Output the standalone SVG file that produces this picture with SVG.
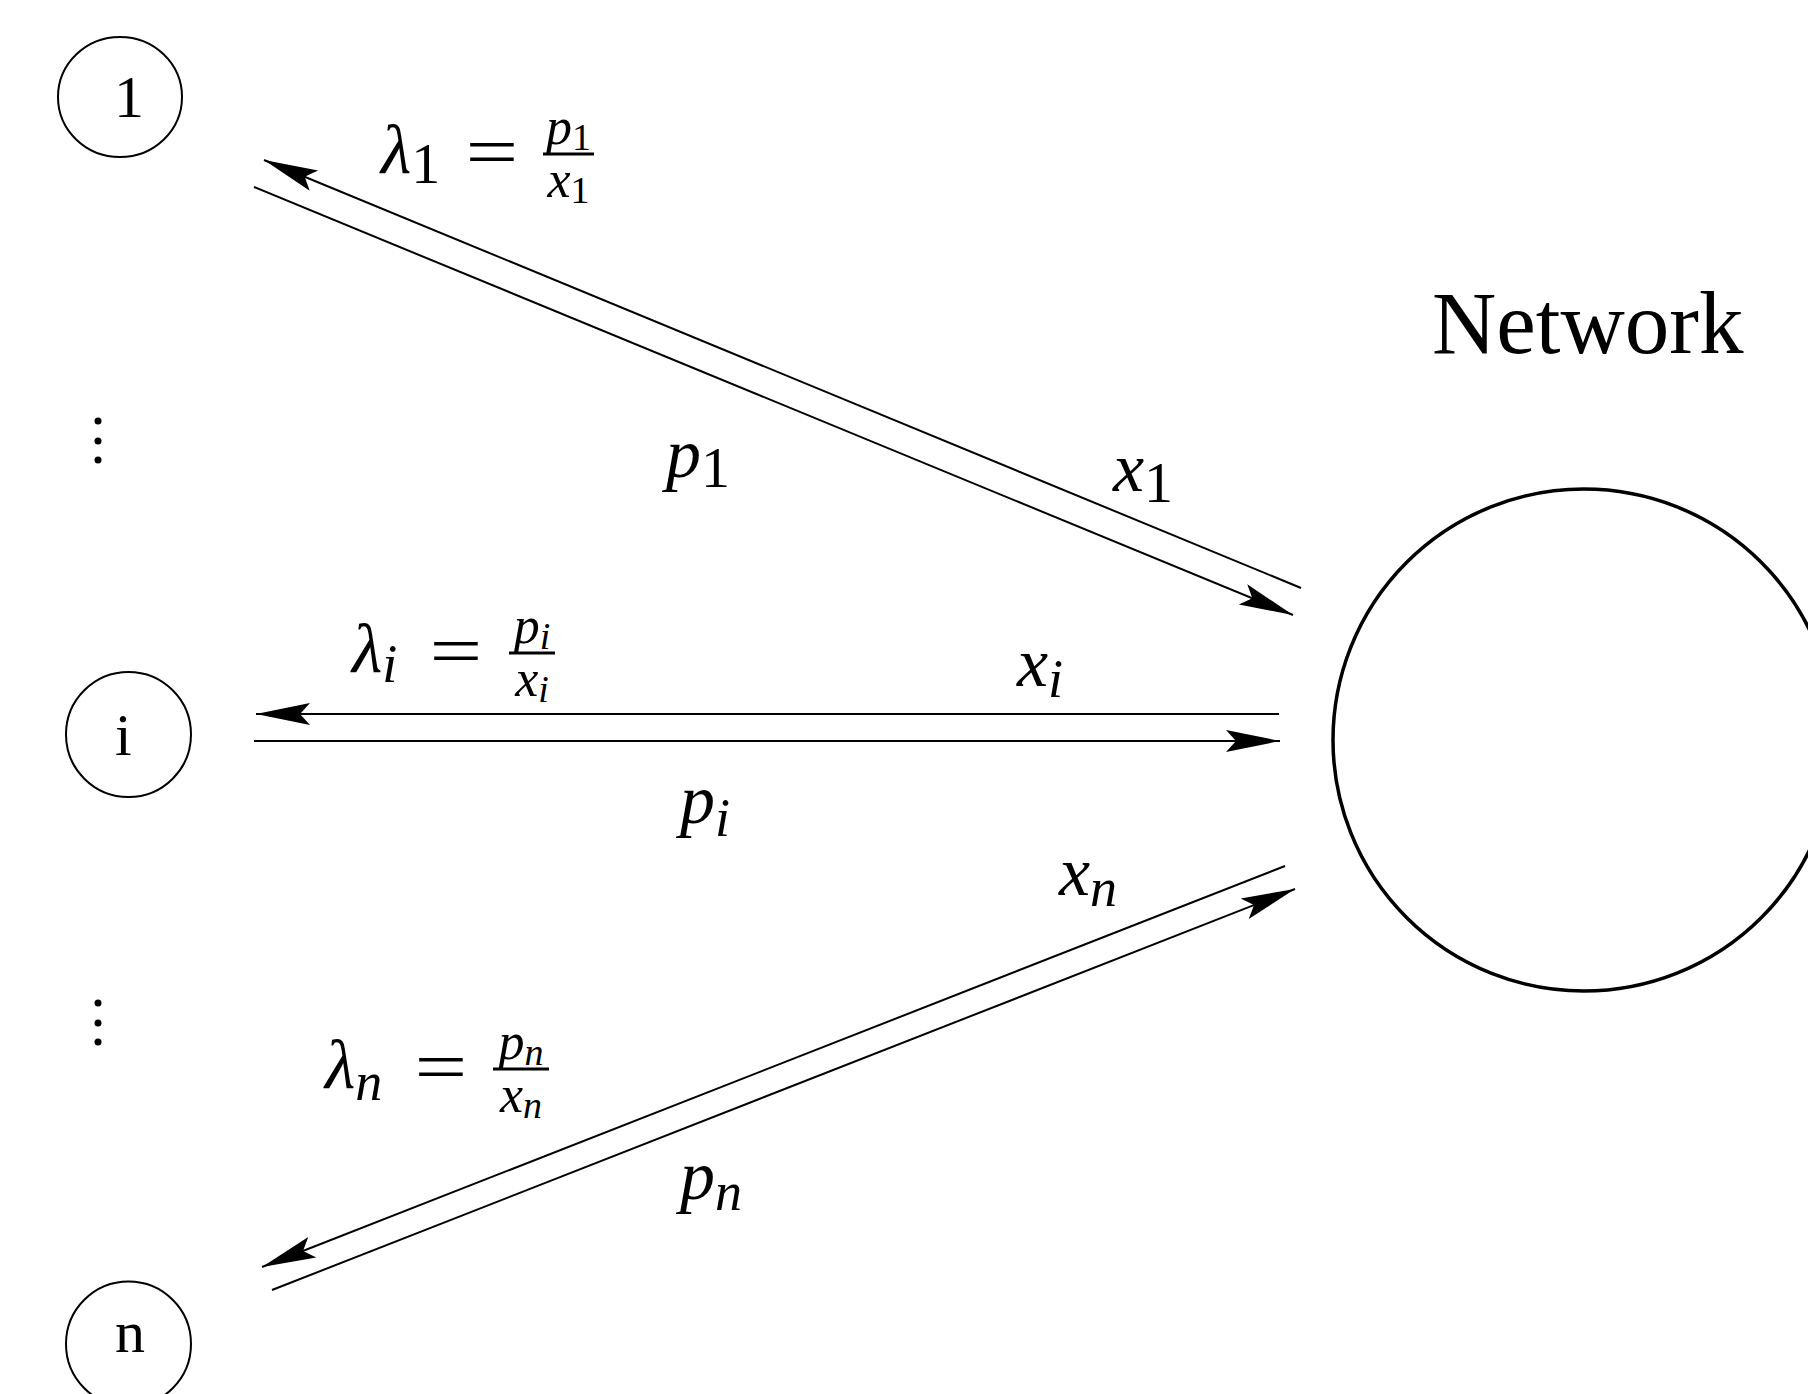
<svg xmlns="http://www.w3.org/2000/svg" width="1808" height="1394" viewBox="0 0 1808 1394">
  <style>
    .node { fill: none; stroke: #000; stroke-width: 2; }
    .net { fill: none; stroke: #000; stroke-width: 3.5; }
    .conn { fill: none; stroke: #000; stroke-width: 2; marker-end: url(#arrow); }
    .bar { stroke: #000; stroke-width: 3; }
    .ntxt { font-family: "Liberation Serif", "Times New Roman", serif; font-size: 60px; fill: #000; }
    .m { font-family: "Liberation Serif", "Times New Roman", serif; font-size: 70px; fill: #000; }
    .f { font-family: "Liberation Serif", "Times New Roman", serif; font-size: 52px; fill: #000; }
    .it { font-family: "Liberation Serif", "Times New Roman", serif; font-style: italic; }
    .sd { font-size: 58px; }
    .sl { font-size: 54px; font-style: italic; }
    .fs { font-size: 38px; }
    .fsl { font-size: 38px; font-style: italic; }
    .eq { font-family: "Liberation Serif", "Times New Roman", serif; font-size: 72px; fill: #000; }
    .dot { fill: #000; }
  </style>
  <defs>
    <marker id="arrow" viewBox="-60 -15 64 30" markerWidth="64" markerHeight="30" refX="0" refY="0" orient="auto" markerUnits="userSpaceOnUse">
      <path d="M0,0 L-54,-11 L-44,0 L-54,11 Z" fill="#000"/>
    </marker>
  </defs>
  <rect width="1808" height="1394" fill="#fff"/>

  <g id="node-1">
    <ellipse class="node" cx="120" cy="97" rx="62" ry="60"/>
    <text class="ntxt" x="114" y="117">1</text>
  </g>
  <g id="node-i">
    <ellipse class="node" cx="128.5" cy="734.5" rx="62.5" ry="62.5"/>
    <text class="ntxt" x="115" y="755">i</text>
  </g>
  <g id="node-n">
    <ellipse class="node" cx="128.5" cy="1344" rx="62.5" ry="62.5"/>
    <text class="ntxt" x="115" y="1352">n</text>
  </g>
  <g id="node-network">
    <circle class="net" cx="1584" cy="740" r="251"/>
    <text class="ntxt" x="1432" y="353" style="font-size:89px">Network</text>
  </g>

  <g id="ellipsis-dots">
    <circle class="dot" cx="98" cy="421" r="3.5"/>
    <circle class="dot" cx="98" cy="441" r="3.5"/>
    <circle class="dot" cx="98" cy="460" r="3.5"/>
    <circle class="dot" cx="98" cy="1003" r="3.5"/>
    <circle class="dot" cx="98" cy="1023" r="3.5"/>
    <circle class="dot" cx="98" cy="1042" r="3.5"/>
  </g>

  <g id="connectors">
    <path class="conn" d="M1301,588 L264,160"/>
    <path class="conn" d="M254,187 L1293,615"/>
    <path class="conn" d="M1279,714 L256,714"/>
    <path class="conn" d="M254,741 L1280,741"/>
    <path class="conn" d="M1285,866 L262,1267"/>
    <path class="conn" d="M272,1290 L1295,889"/>
  </g>

  <g id="labels">
    <!-- lambda_1 = p1/x1 -->
    <text class="m" x="381" y="173"><tspan class="it">λ</tspan><tspan class="sd" dy="10">1</tspan></text>
    <text class="eq" transform="translate(492,176) scale(1.3,1)" text-anchor="middle">=</text>
    <line class="bar" x1="543" y1="154" x2="594" y2="154"/>
    <text class="f" x="568.5" y="144" text-anchor="middle"><tspan class="it">p</tspan><tspan class="fs" dy="6">1</tspan></text>
    <text class="f" x="568.5" y="197" text-anchor="middle"><tspan class="it">x</tspan><tspan class="fs" dy="6">1</tspan></text>

    <!-- lambda_i = pi/xi -->
    <text class="m" x="352" y="672"><tspan class="it">λ</tspan><tspan class="sl" dy="10">i</tspan></text>
    <text class="eq" transform="translate(456,675) scale(1.3,1)" text-anchor="middle">=</text>
    <line class="bar" x1="509" y1="653" x2="555" y2="653"/>
    <text class="f" x="532" y="643" text-anchor="middle"><tspan class="it">p</tspan><tspan class="fsl" dy="6">i</tspan></text>
    <text class="f" x="532" y="696" text-anchor="middle"><tspan class="it">x</tspan><tspan class="fsl" dy="6">i</tspan></text>

    <!-- lambda_n = pn/xn -->
    <text class="m" x="325" y="1088"><tspan class="it">λ</tspan><tspan class="sl" dy="12">n</tspan></text>
    <text class="eq" transform="translate(441,1091) scale(1.3,1)" text-anchor="middle">=</text>
    <line class="bar" x1="493" y1="1069" x2="549" y2="1069"/>
    <text class="f" x="521" y="1059" text-anchor="middle"><tspan class="it">p</tspan><tspan class="fsl" dy="6">n</tspan></text>
    <text class="f" x="521" y="1112" text-anchor="middle"><tspan class="it">x</tspan><tspan class="fsl" dy="6">n</tspan></text>

    <!-- flow labels -->
    <text class="m" x="666" y="477"><tspan class="it">p</tspan><tspan class="sd" dy="10">1</tspan></text>
    <text class="m" x="1113" y="491"><tspan class="it">x</tspan><tspan class="sd" dy="11">1</tspan></text>
    <text class="m" x="1017" y="686"><tspan class="it">x</tspan><tspan class="sl" dy="11">i</tspan></text>
    <text class="m" x="680" y="823"><tspan class="it">p</tspan><tspan class="sl" dy="13">i</tspan></text>
    <text class="m" x="1059" y="895"><tspan class="it">x</tspan><tspan class="sl" dy="11">n</tspan></text>
    <text class="m" x="680" y="1199"><tspan class="it">p</tspan><tspan class="sl" dy="11">n</tspan></text>
  </g>
</svg>
